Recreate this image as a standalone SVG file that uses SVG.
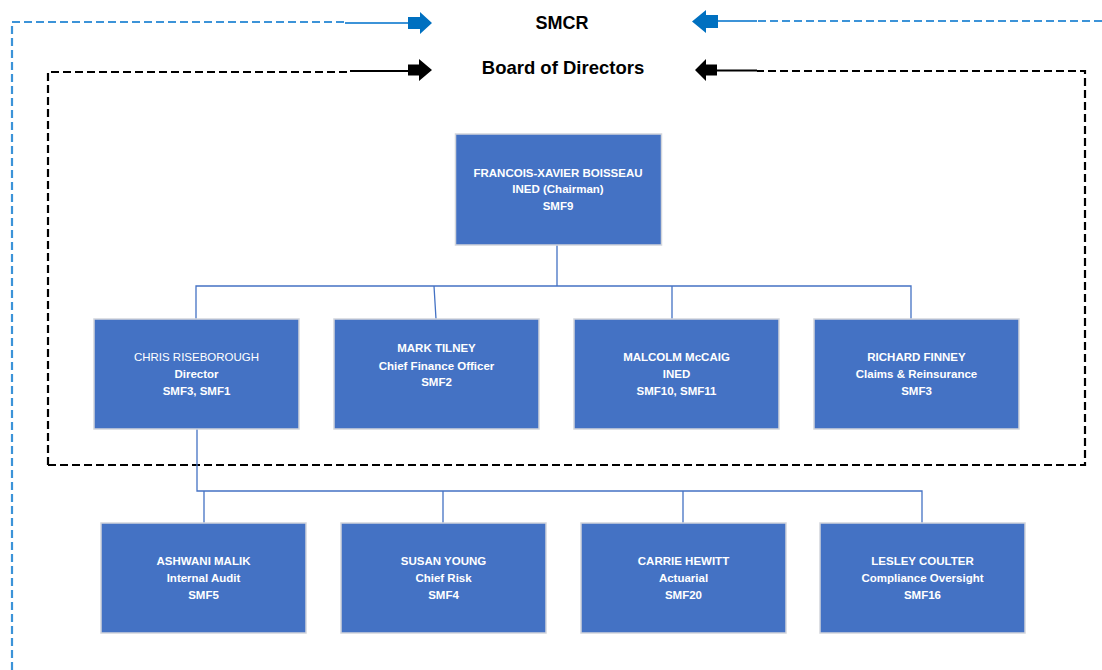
<svg xmlns="http://www.w3.org/2000/svg" width="1102" height="670" viewBox="0 0 1102 670">
<style>
.box{fill:#4472C4;stroke:#D2D5DB;stroke-width:1.5}
.t{font-family:"Liberation Sans",Arial,sans-serif;font-size:11.5px;font-weight:bold;fill:#FFFFFF;text-anchor:middle}
.n{font-weight:normal}
.title{font-family:"Liberation Sans",Arial,sans-serif;font-weight:bold;fill:#000;text-anchor:middle}
.conn{fill:none;stroke:#4472C4;stroke-width:1.3}
.bdash{fill:none;stroke:#3C93D8;stroke-width:2.2;stroke-dasharray:8,4}
.kdash{fill:none;stroke:#000;stroke-width:2.2;stroke-dasharray:8,4}
</style>
<rect width="1102" height="670" fill="#FFFFFF"/>

<g id="frames">
  <path class="bdash" d="M12,670 V22 H345"/>
  <line x1="345" y1="23" x2="409" y2="23" stroke="#3C93D8" stroke-width="2"/>
  <polygon points="408,17 420,17 420,12 432,23 420,34 420,29 408,29" fill="#0070C0"/>
  <path class="bdash" d="M1102,21 H757"/>
  <line x1="757" y1="21" x2="717" y2="21" stroke="#3C93D8" stroke-width="2"/>
  <polygon points="718,15 706,15 706,10 692,21.5 706,33 706,28 718,28" fill="#0070C0"/>
  <path class="kdash" d="M48,465 V72 H350"/>
  <line x1="350" y1="71" x2="409" y2="71" stroke="#000" stroke-width="2"/>
  <polygon points="408,64.5 419,64.5 419,59 432,70 419,81 419,75.5 408,75.5" fill="#000"/>
  <path class="kdash" d="M48,465 H1085 V71 H757"/>
  <line x1="757" y1="70.5" x2="716" y2="70.5" stroke="#000" stroke-width="2"/>
  <polygon points="717,64.5 706,64.5 706,59 695,70 706,81 706,75.5 717,75.5" fill="#000"/>
</g>

<g id="titles">
  <text class="title" x="562" y="29" font-size="18">SMCR</text>
  <text class="title" x="563" y="74" font-size="18.5">Board of Directors</text>
</g>

<g id="connectors">
  <path class="conn" d="M557,245 V286 M196,319 V286 H911 V319 M434,286 L436,319 M672,286 V319"/>
  <path class="conn" d="M197,429 V491 H922 V523 M204,491 V523 M443,491 V523 M683,491 V523"/>
</g>

<g id="node-boisseau">
  <rect class="box" x="455.5" y="134" width="206" height="111"/>
  <text class="t" x="558" y="176.5">FRANCOIS-XAVIER BOISSEAU</text>
  <text class="t" x="558" y="193">INED (Chairman)</text>
  <text class="t" x="558" y="210">SMF9</text>
</g>

<g id="node-riseborough">
  <rect class="box" x="94" y="319" width="205" height="110"/>
  <text class="t n" x="196.5" y="361">CHRIS RISEBOROUGH</text>
  <text class="t" x="196.5" y="378">Director</text>
  <text class="t" x="196.5" y="395">SMF3, SMF1</text>
</g>

<g id="node-tilney">
  <rect class="box" x="334" y="319" width="205" height="110"/>
  <text class="t" x="436.5" y="352">MARK TILNEY</text>
  <text class="t" x="436.5" y="369.5">Chief Finance Officer</text>
  <text class="t" x="436.5" y="386">SMF2</text>
</g>

<g id="node-mccaig">
  <rect class="box" x="574" y="319" width="205" height="110"/>
  <text class="t" x="676.5" y="361">MALCOLM McCAIG</text>
  <text class="t" x="676.5" y="378">INED</text>
  <text class="t" x="676.5" y="395">SMF10, SMF11</text>
</g>

<g id="node-finney">
  <rect class="box" x="814" y="319" width="205" height="110"/>
  <text class="t" x="916.5" y="361">RICHARD FINNEY</text>
  <text class="t" x="916.5" y="378">Claims &amp; Reinsurance</text>
  <text class="t" x="916.5" y="395">SMF3</text>
</g>

<g id="node-malik">
  <rect class="box" x="101" y="523" width="205" height="110"/>
  <text class="t" x="203.5" y="565">ASHWANI MALIK</text>
  <text class="t" x="203.5" y="582">Internal Audit</text>
  <text class="t" x="203.5" y="598.5">SMF5</text>
</g>

<g id="node-young">
  <rect class="box" x="341" y="523" width="205" height="110"/>
  <text class="t" x="443.5" y="565">SUSAN YOUNG</text>
  <text class="t" x="443.5" y="582">Chief Risk</text>
  <text class="t" x="443.5" y="598.5">SMF4</text>
</g>

<g id="node-hewitt">
  <rect class="box" x="581" y="523" width="205" height="110"/>
  <text class="t" x="683.5" y="565">CARRIE HEWITT</text>
  <text class="t" x="683.5" y="582">Actuarial</text>
  <text class="t" x="683.5" y="598.5">SMF20</text>
</g>

<g id="node-coulter">
  <rect class="box" x="820" y="523" width="205" height="110"/>
  <text class="t" x="922.5" y="565">LESLEY COULTER</text>
  <text class="t" x="922.5" y="582">Compliance Oversight</text>
  <text class="t" x="922.5" y="598.5">SMF16</text>
</g>
</svg>
